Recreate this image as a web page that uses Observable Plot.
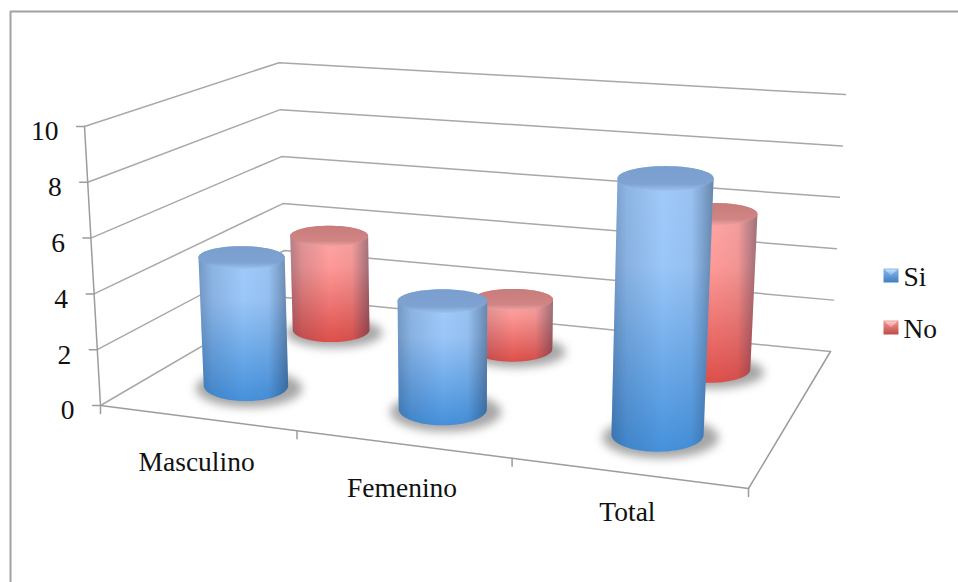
<!DOCTYPE html>
<html>
<head>
<meta charset="utf-8">
<script src="https://cdn.jsdelivr.net/npm/d3@7"></script>
<script src="https://cdn.jsdelivr.net/npm/@observablehq/plot@0.6"></script>
<style>html,body{margin:0;padding:0;background:#fff}svg{display:block}</style>
</head>
<body>
<div id="chart"></div>
<script>
const categories = ["Masculino", "Femenino", "Total"];
const si = [5, 4, 9];
const no = [4, 2, 6];
const yTicks = [0, 2, 4, 6, 8, 10];
const seriesNames = ["Si", "No"];

// Camera: floor quad, vertical vanishing point
const FL = [100, 405], FR = [748, 488], BR = [830, 351], BL = [285, 297];
const VP = [461, 6703];
const kH = 0.00443, cylF = 0.955, RX = 43.5;
const FONT = "Liberation Serif", FS = 27.5;
const labelDy = [44, 44, 39];

const dx1 = FR[0]-BR[0], dx2 = BL[0]-BR[0], sx = FL[0]-FR[0]+BR[0]-BL[0];
const dy1 = FR[1]-BR[1], dy2 = BL[1]-BR[1], sy = FL[1]-FR[1]+BR[1]-BL[1];
const det = dx1*dy2-dx2*dy1;
const G = (sx*dy2-dx2*sy)/det, H = (dx1*sy-sx*dy1)/det;
const A = FR[0]-FL[0]+G*FR[0], B = BL[0]-FL[0]+H*BL[0];
const D = FR[1]-FL[1]+G*FR[1], E = BL[1]-FL[1]+H*BL[1];
const W = (u,v) => G*u+H*v+1;
function project(u,v,h){
  const w = W(u,v);
  const x = (A*u+B*v+FL[0])/w, y = (D*u+E*v+FL[1])/w;
  const s = kH/w*h;
  return {x: x+(x-VP[0])*s, y: y+(y-VP[1])*s};
}

const GRID = "#a8a8a8", AXIS = "#9c9c9c";
const seg = (pts, o={}) => Plot.line(pts, {x:"x", y:"y", stroke:o.stroke||GRID, strokeWidth:o.w||1.5});

const marks = [];
// frame
marks.push(seg([{x:10,y:582},{x:10,y:11},{x:958,y:11}], {stroke:"#a2a2a2", w:2}));
// walls
for (const t of yTicks) {
  marks.push(seg([project(0,0,t), project(0,1,t), project(1,1,t*0.985)]));
}
// axes
marks.push(seg([project(0,0,0), project(0,0,10)], {stroke:AXIS}));
marks.push(seg([project(0,0,0), project(1,0,0), project(1,1,0)], {stroke:AXIS}));
for (const t of yTicks) {
  const p = project(0,0,t);
  marks.push(seg([{x:p.x-8,y:p.y},p], {stroke:AXIS}));
}
for (const u of [0,1/3,2/3,1]) {
  const p = project(u,0,0);
  marks.push(seg([p,{x:p.x,y:p.y+8}], {stroke:AXIS}));
}
marks.push(Plot.text(yTicks, {
  x:t=>project(0,0,t).x-26, y:t=>project(0,0,t).y+5, text:t=>String(t),
  textAnchor:"end", fontSize:FS, fontFamily:FONT, fill:"#111"
}));
marks.push(Plot.text(categories, {
  x:(d,i)=>project((i+.5)/3,0,0).x, y:(d,i)=>project((i+.5)/3,0,0).y+labelDy[i], text:d=>d,
  fontSize:FS, fontFamily:FONT, fill:"#111"
}));

function ellipse(c, rx, ry, a0=0, a1=2*Math.PI, n=72){
  const out = [];
  for (let i=0;i<=n;i++){
    const a = a0+(a1-a0)*i/n;
    out.push({x:c.x+rx*Math.cos(a), y:c.y+ry*Math.sin(a)});
  }
  return out;
}
function cylinder(u,v,val,name){
  const P = project(u,v,0), T = project(u,v,val*cylF*(1+.04*(u-.5)));
  const rx = RX/W(u,v), rb = rx*(0.395-0.1*v), rt = rx*0.27;
  const rxT = rx*(1+(P.y-T.y)/6000);
  const shadow = ellipse({x:P.x+3,y:P.y+3}, rx*1.26, rb*1.2);
  marks.push(Plot.line(shadow, {x:"x",y:"y",fill:"#707070",fillOpacity:.62,stroke:"none",imageFilter:"blur(5px)"}));
  const body = [...ellipse(P,rx,rb,Math.PI,0,48), ...ellipse(T,rxT,rt,0,-Math.PI,48)];
  marks.push(Plot.line(body, {x:"x",y:"y",fill:`url(#body${name})`,stroke:"none"}));
  marks.push(Plot.line(body, {x:"x",y:"y",fill:`url(#edge)`,stroke:"none"}));
  marks.push(Plot.line(ellipse(T,rxT,rt), {x:"x",y:"y",fill:`url(#top${name})`,stroke:"none"}));
}
no.forEach((d,i)=>cylinder((i+.5)/3,.75,d,"No"));
si.forEach((d,i)=>cylinder((i+.5)/3,.25,d,"Si"));

// legend
const LX = 883, LW = 15, LH = 14, legendY = [268, 320];
seriesNames.forEach((name,i)=>{
  const y0 = legendY[i];
  marks.push(Plot.line([{x:LX,y:y0},{x:LX+LW,y:y0},{x:LX+LW,y:y0+LH},{x:LX,y:y0+LH}],
    {x:"x",y:"y",fill:`url(#sw${name})`,stroke:"none"}));
  marks.push(Plot.line([{x:LX+1,y:y0+1},{x:LX+LW-1,y:y0+1},{x:LX+LW/2,y:y0+7}],
    {x:"x",y:"y",fill:`url(#chev${name})`,stroke:"none"}));
});
marks.push(Plot.text(seriesNames, {
  x:LX+20, y:(d,i)=>legendY[i]+9, text:d=>d, textAnchor:"start",
  fontSize:FS, fontFamily:FONT, fill:"#111"
}));

const plot = Plot.plot({
  width:958, height:582, margin:0,
  x:{domain:[0,958], range:[0,958], axis:null},
  y:{domain:[0,582], range:[0,582], axis:null},
  style:{background:"#fff"},
  marks
});
const lin = (id,stops,dir="v") => `<linearGradient id="${id}" x1="0" y1="0" x2="${dir=="h"?1:0}" y2="${dir=="h"?0:1}">`+
  stops.map(([o,c,a])=>`<stop offset="${o}" stop-color="${c}" stop-opacity="${a??1}"/>`).join("")+`</linearGradient>`;
d3.select(plot).insert("defs",":first-child").html(
  lin("bodySi",[[0,"#a2cbfa"],[.35,"#9ac6f8"],[1,"#4591dc"]])+
  lin("bodyNo",[[0,"#ffa8a6"],[.35,"#fd9a98"],[1,"#de4f4a"]])+
  lin("edge",[[0,"#1a3050",.32],[.15,"#1a3050",.14],[.5,"#1a3050",0],[.78,"#1a3050",.05],[1,"#1a2a40",.42]],"h")+
  lin("topSi",[[0,"#7a9ecd"],[.72,"#7ea3d2"],[1,"#9cc2ee"]])+
  lin("topNo",[[0,"#c87c7c"],[.72,"#d08484"],[1,"#eda4a2"]])+
  lin("swSi",[[0,"#8cb9e8"],[1,"#3f7fc0"]])+
  lin("swNo",[[0,"#f09a98"],[1,"#c04a46"]])+
  lin("chevSi",[[0,"#c6e0fa"],[1,"#7fb2e8"]])+
  lin("chevNo",[[0,"#fcd0ce"],[1,"#ea8a88"]])
);
document.getElementById("chart").append(plot);
</script>
</body>
</html>
